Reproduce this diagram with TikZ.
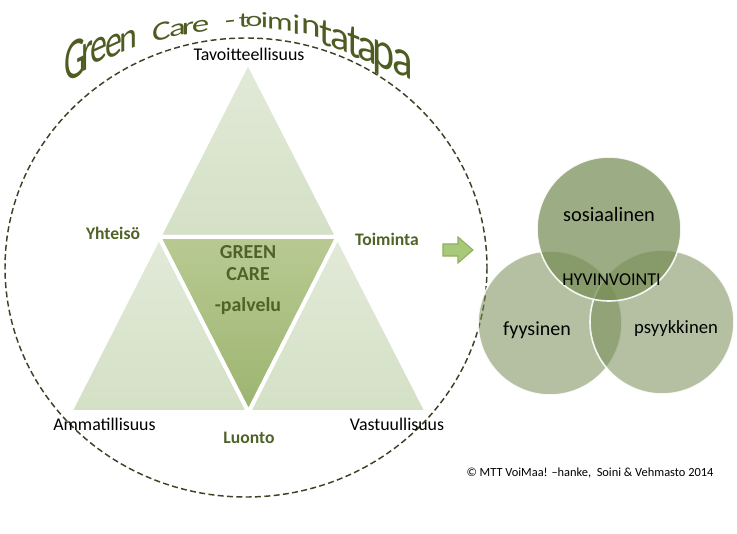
\documentclass[tikz,border=0pt]{standalone}
\usepackage{fontspec}
\setmainfont{Carlito}
\usepackage{tikz}
\definecolor{oliveDark}{RGB}{79,98,40}
\definecolor{titleOlive}{RGB}{78,92,34}
\definecolor{ringDash}{RGB}{60,66,36}
\definecolor{paleGreen}{RGB}{226,234,216}
\definecolor{paleGreenLow}{RGB}{212,224,198}
\definecolor{midGreen}{RGB}{184,202,146}
\definecolor{midGreenLow}{RGB}{156,180,112}
\definecolor{sageGreen}{RGB}{118,140,84}
\definecolor{arrowFill}{RGB}{168,200,122}
\definecolor{arrowLine}{RGB}{140,178,92}

\begin{document}
\begin{tikzpicture}[
    x=0.75pt, y=-0.75pt,
    lbl/.style={anchor=base, inner sep=0pt, font=\fontsize{13.4}{16}\selectfont},
    keyw/.style={lbl, text=oliveDark, font=\bfseries\fontsize{13.2}{16}\selectfont},
    corelbl/.style={lbl, text=oliveDark, font=\bfseries\fontsize{14.9}{18}\selectfont},
    titlech/.style={anchor=base, inner sep=0pt, text=titleOlive},
    tri/.style={draw=white, line width=3pt, line join=round, top color=paleGreen, bottom color=paleGreenLow},
    coretri/.style={tri, top color=midGreen, bottom color=midGreenLow},
    ring/.style={draw=ringDash, line width=1.1pt, dash pattern=on 4.5pt off 2.5pt},
    bubble/.style={circle, minimum size=108pt, inner sep=0pt, fill=sageGreen, fill opacity=0.55, draw=white, draw opacity=0.9, line width=1.2pt},
    bigarrow/.style={fill=arrowFill, draw=arrowLine, line width=0.8pt, line join=miter}
  ]
    \useasboundingbox (0,0) rectangle (737,534);

    % the triangle
    \coordinate (top) at (248,62);
    \coordinate (bl) at (70,412);
    \coordinate (br) at (427,412);
    \coordinate (ml) at (159,237);
    \coordinate (mr) at (337.5,237);
    \coordinate (mb) at (248.5,412);
    \path[tri] (top) -- (ml) -- (mr) -- cycle;
    \path[tri] (ml) -- (bl) -- (mb) -- cycle;
    \path[tri] (mr) -- (mb) -- (br) -- cycle;
    \path[coretri] (ml) -- (mr) -- (mb) -- cycle;

    \draw[ring] (246,267.5) ellipse [x radius=241, y radius=229.5];

    % arched title, letter by letter: char/x/baseline/width size/height size/slant
    \foreach \ltr/\lx/\ly/\lh/\lv/\ls [count=\i, evaluate=\lv as \lys using \lv/\lh, evaluate=\lh as \lpt using \lh*0.75] in {
        G/75.5/78/34/58/0.5, r/87.5/70/34/55/0.5, e/99/62/34/49/0.45, e/113.5/57/34/45/0.45, n/128.5/50.4/34/38/0.4,
        C/161.5/40/35/27/0.25, a/177.5/36/35/24/0.2, r/188/34/35/24/0.18, e/200.5/32/35/24/0.15,
        -/230/28/34/23/0.1, t/244/27/32/21/0.05, o/254/27/32/21/0, i/264.5/28/32/22/-0.05, m/280/30.5/32/25/-0.12,
        i/296.5/34/33/28/-0.2, n/311/35/37/31/-0.3, t/326.5/45.7/39/39/-0.35, a/340.5/50/40/41/-0.38,
        t/354/57.6/40/47/-0.4, a/367.5/62/41/47/-0.42, p/384/68/42/53/-0.44, a/402.5/75.7/43/53/-0.45}
      \node[titlech, yslant=\ls, yscale=\lys, font=\fontsize{\lpt}{\lpt}\selectfont] (ttl\i) at (\lx,\ly) {\ltr};

    \node[lbl] (tav) at (249,61) {Tavoitteellisuus};
    \node[keyw] (yht) at (113,239) {Yhteisö};
    \node[keyw] (toi) at (387,245) {Toiminta};
    \node[corelbl] (green) at (248,258) {GREEN};
    \node[corelbl] (care) at (248,280) {CARE};
    \node[corelbl] (palv) at (248,311) {-palvelu};
    \node[lbl] (amm) at (104.5,430) {Ammatillisuus};
    \node[lbl] (vas) at (397,430) {Vastuullisuus};
    \node[keyw] (luo) at (249,443) {Luonto};

    \draw[bigarrow] (443,244) -- (458,244) -- (458,237) -- (473,250) -- (458,263) -- (458,256) -- (443,256) -- cycle;

    % wellbeing circles
    \node[bubble] (fys) at (550,323) {};
    \node[bubble] (psy) at (662,322) {};
    \node[bubble, fill opacity=0.72] (sos) at (609,229) {};
    \node[lbl, font=\fontsize{15.3}{18}\selectfont] (sosl) at (609,222) {sosiaalinen};
    \node[lbl, font=\fontsize{13.6}{16}\selectfont] (hyv) at (611.5,285) {HYVINVOINTI};
    \node[lbl, font=\fontsize{15}{18}\selectfont] (fysl) at (537,335) {fyysinen};
    \node[lbl, font=\fontsize{14}{17}\selectfont] (psyl) at (676,333) {psyykkinen};

    \node[lbl, font=\fontsize{9.3}{11}\selectfont] (copy) at (590,476) {© MTT VoiMaa! –hanke,~ Soini \& Vehmasto 2014};
  \end{tikzpicture}
\end{document}
